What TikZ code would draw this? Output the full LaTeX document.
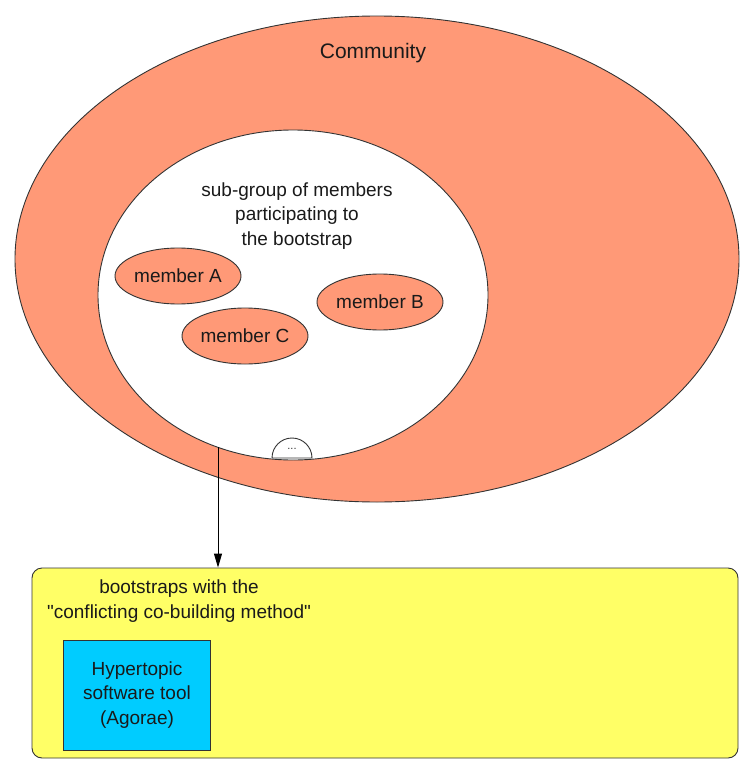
\documentclass[tikz,border=0pt]{standalone}
\usepackage{fontspec}
\setmainfont{Liberation Sans}
% same face without TeX input ligatures, so " stays a straight quote
\newfontfamily\plainface{Liberation Sans}
\usetikzlibrary{arrows.meta,shapes.geometric}
\definecolor{salmon}{HTML}{FF9977}
\definecolor{padyellow}{HTML}{FFFF66}
\definecolor{toolblue}{HTML}{00CCFF}
\definecolor{edge}{HTML}{333333}
\definecolor{ink}{HTML}{1A1A1A}
\tikzset{
  blob/.style={ellipse, draw=edge, line width=0.9pt, inner sep=0pt},
  member/.style={blob, fill=salmon, minimum width=126pt, minimum height=56pt,
    text=ink, font=\fontsize{19}{22}\selectfont},
  caption/.style={align=center, text=ink, font=\fontsize{19}{24.5}\selectfont, inner sep=0pt},
  link/.style={draw=black, line width=0.9pt, -{Triangle[length=14pt,width=8pt]}}
}
\begin{document}
\begin{tikzpicture}[x=1pt,y=-1pt]
\useasboundingbox (0,0) rectangle (740,760);

% community and its sub-group
\node[blob, fill=salmon, minimum width=724pt, minimum height=486pt] (community) at (377,259) {};
\node[caption, font=\fontsize{21}{24}\selectfont] (commlabel) at (373,53) {Community};
\node[blob, fill=white, minimum width=390pt, minimum height=330pt] (subgroup) at (293,295) {};
\node[caption] (sublabel) at (297,216) {sub-group of members\\participating to\\the bootstrap};

% members
\node[member] (memA) at (178,276) {member A};
\node[member] (memB) at (380,302) {member B};
\node[member] (memC) at (245,336) {member C};

% "..." half disc on the lower rim
\draw[draw=edge, line width=0.9pt, fill=white] (272,458) arc (180:360:20) -- cycle;
\node[font=\fontsize{11}{12}\selectfont, text=edge, inner sep=0pt] (more) at (292,449) {...};

% method box
\node[draw=edge, line width=0.9pt, fill=padyellow, rounded corners=10pt,
      minimum width=706pt, minimum height=190pt, inner sep=0pt] (method) at (385,663) {};
\node[caption] (methodlabel) at (179,601) {bootstraps with the\\{\plainface"}conflicting co-building method{\plainface"}};
\node[draw=edge, line width=0.9pt, fill=toolblue, minimum width=147pt, minimum height=110pt,
      inner sep=0pt, caption] (tool) at (137,695) {Hypertopic\\software tool\\(Agorae)};

% connector
\coordinate (tail) at (218,447);
\draw[link] (tail) -- (tail |- method.north);
\end{tikzpicture}
\end{document}
